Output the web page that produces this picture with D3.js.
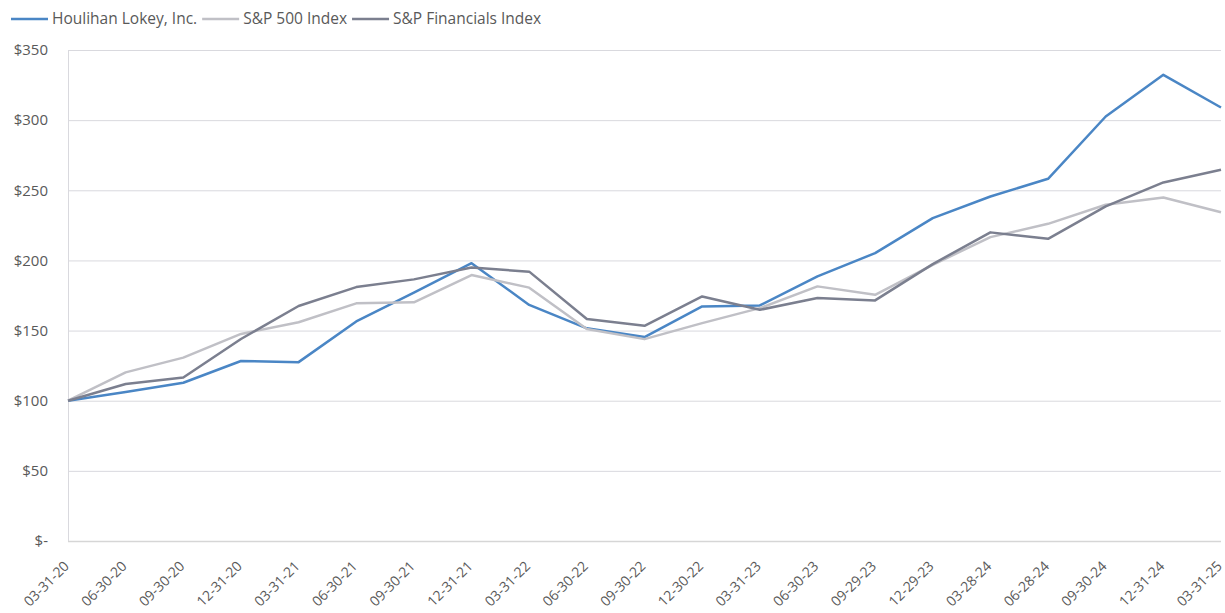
<!DOCTYPE html>
<html lang="en">
  <head>
    <meta charset="UTF-8" />
    <title>Houlihan Lokey cumulative return</title>
    <style>
      body {
        margin: 0;
        background: #fff;
      }
      svg {
        font-family: 'Open Sans', sans-serif;
      }
    </style>
  </head>
  <body>
    <svg width="1225" height="613"></svg>
    <script src="https://d3js.org/d3.v7.min.js"></script>
    <script>
      const dates = [
        '03-31-20', '06-30-20', '09-30-20', '12-31-20', '03-31-21', '06-30-21', '09-30-21',
        '12-31-21', '03-31-22', '06-30-22', '09-30-22', '12-30-22', '03-31-23', '06-30-23',
        '09-29-23', '12-29-23', '03-28-24', '06-28-24', '09-30-24', '12-31-24', '03-31-25'
      ];
      const houlihan = [100, 106.2, 112.8, 128.3, 127.5, 156.5, 177, 198, 168.3, 151.6, 145.4,
        167.2, 167.9, 188.6, 205.2, 230.2, 245.6, 258.2, 302.6, 332.3, 309];
      const sp500 = [100, 120.2, 130.7, 147.6, 155.9, 169.4, 170.1, 189.6, 180.6, 151.1, 143.9,
        155.3, 166, 181.5, 175.5, 196.9, 216.6, 226.1, 239.7, 244.9, 234.4];
      const spFin = [100, 111.9, 116.6, 144, 167.5, 181, 186.5, 194.9, 192, 158.2, 153.4,
        174.3, 164.8, 173.2, 171.5, 197.4, 220, 215.4, 238.5, 255.6, 264.6];
      const yTicks = [0, 50, 100, 150, 200, 250, 300, 350];

      const series = [
        { name: 'Houlihan Lokey, Inc.', values: houlihan, color: '#4a86c5' },
        { name: 'S&P 500 Index', values: sp500, color: '#c0c0c6' },
        { name: 'S&P Financials Index', values: spFin, color: '#7b7f8f' }
      ];

      const svg = d3.select('svg');
      const plotLeft = 68, plotRight = 1221, plotTop = 50, plotBottom = 541;

      const x = d3.scalePoint().domain(dates).range([plotLeft, plotRight]);
      const y = d3.scaleLinear().domain([0, 350]).range([plotBottom, plotTop]);

      // gridlines
      svg.append('g')
        .selectAll('line')
        .data(yTicks)
        .join('line')
        .attr('x1', plotLeft)
        .attr('x2', plotRight)
        .attr('y1', (d) => y(d) + 0.5)
        .attr('y2', (d) => y(d) + 0.5)
        .attr('stroke', (d) => (d === 0 ? '#d6d6d6' : '#d9d9de'))
        .attr('stroke-width', (d) => (d === 0 ? 1.5 : 1));

      svg.append('line')
        .attr('x1', plotLeft + 0.5)
        .attr('x2', plotLeft + 0.5)
        .attr('y1', plotTop)
        .attr('y2', plotBottom)
        .attr('stroke', '#d9d9de');

      // y labels
      svg.append('g')
        .selectAll('text')
        .data(yTicks)
        .join('text')
        .attr('x', 48)
        .attr('y', (d) => y(d))
        .attr('dy', '0.35em')
        .attr('text-anchor', 'end')
        .attr('font-size', 15)
        .attr('fill', '#595959')
        .text((d) => (d === 0 ? '$-' : '$' + d));

      // x labels
      svg.append('g')
        .selectAll('text')
        .data(dates)
        .join('text')
        .attr('transform', (d) => `translate(${x(d) + 2},${plotBottom + 26}) rotate(-45)`)
        .attr('text-anchor', 'end')
        .attr('font-size', 14)
        .attr('fill', '#595959')
        .text((d) => d);

      // lines
      const line = d3.line()
        .x((d, i) => x(dates[i]))
        .y((d) => y(d));

      svg.append('g')
        .selectAll('path')
        .data(series)
        .join('path')
        .attr('d', (d) => line(d.values))
        .attr('fill', 'none')
        .attr('stroke', (d) => d.color)
        .attr('stroke-width', 2.5)
        .attr('stroke-linejoin', 'round');

      // legend
      const legend = svg.append('g');
      let lx = 11;
      series.forEach((s) => {
        legend.append('line')
          .attr('x1', lx)
          .attr('x2', lx + 37)
          .attr('y1', 19)
          .attr('y2', 19)
          .attr('stroke', s.color)
          .attr('stroke-width', 2.5);
        const t = legend.append('text')
          .attr('x', lx + 41)
          .attr('y', 19)
          .attr('dy', '0.35em')
          .attr('font-size', 15.5)
          .attr('fill', '#595959')
          .text(s.name);
        lx += 41 + t.node().getComputedTextLength() + 5;
      });
    </script>
  </body>
</html>
